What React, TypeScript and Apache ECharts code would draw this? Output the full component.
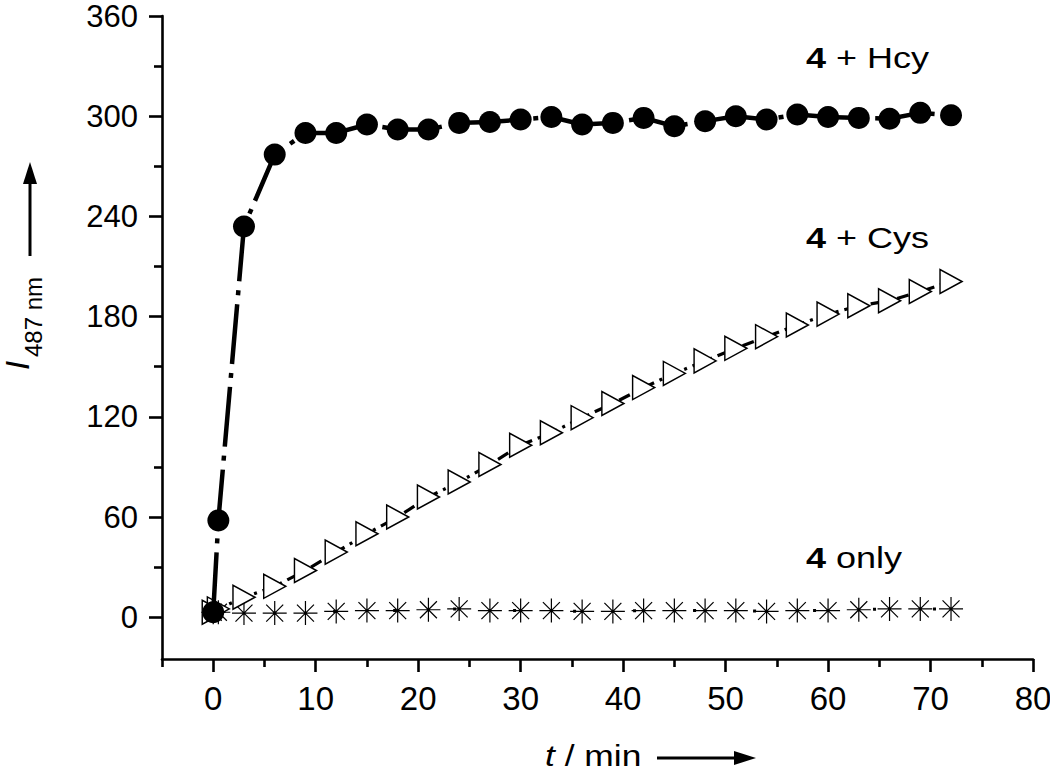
import React, { useEffect, useRef } from "react";
import * as echarts from "echarts";

const times = [0, 0.5, 3, 6, 9, 12, 15, 18, 21, 24, 27, 30, 33, 36, 39, 42, 45, 48, 51, 54, 57, 60, 63, 66, 69, 72];
const hcyValues = [3, 58, 234, 277, 290, 290, 295, 292, 292, 296, 296.5, 298, 299.5, 295, 296, 299, 294, 297, 300, 298, 301, 299.5, 299, 298.5, 302, 300.5];
const cysValues = [3, 5, 12, 18.5, 28, 39, 50, 60, 72, 81, 91.5, 103, 110.5, 119.5, 128, 137.5, 146, 153.5, 161, 168, 175, 181.5, 186.5, 189.5, 195, 201];
const onlyValues = [3, 3, 2.5, 2.5, 2.5, 3.5, 4, 4, 4.5, 5, 4, 4, 4, 3.5, 3.5, 4, 4, 4, 4, 3.5, 4, 4, 4.5, 5, 5, 5];

const xMajorTicks = [0, 10, 20, 30, 40, 50, 60, 70, 80];
const xMinorTicks = [-5, 5, 15, 25, 35, 45, 55, 65, 75];
const yMajorTicks = [0, 60, 120, 180, 240, 300, 360];
const yMinorTicks = [30, 90, 150, 210, 270, 330];

const FONT = '"Liberation Sans", Arial, Helvetica, sans-serif';
const STAR =
  "path://M0,10.45L22,10.45L22,11.55L0,11.55Z" +
  "M10.45,0L11.55,0L11.55,22L10.45,22Z" +
  "M3.61,2.83L19.17,18.39L18.39,19.17L2.83,3.61Z" +
  "M18.39,2.83L19.17,3.61L3.61,19.17L2.83,18.39Z";

function pairs(xs: number[], ys: number[]) {
  return xs.map((x, i) => [x, ys[i]]);
}

export default function App() {
  const ref = useRef<HTMLDivElement>(null);
  useEffect(() => {
    if (!ref.current) return;
    const chart = echarts.init(ref.current, null, { renderer: "svg" });
    const axisLineStyle = { color: "#000", width: 2.6 };
    const xLabelStyle = { color: "#000", fontSize: 33, lineHeight: 26, fontFamily: FONT };
    const yLabelStyle = { color: "#000", fontSize: 31, lineHeight: 26, fontFamily: FONT };
    chart.setOption({
      animation: false,
      backgroundColor: "#fff",
      grid: { left: 162, right: 17, top: 16, bottom: 112, containLabel: false, outerBoundsMode: "none" },
      xAxis: [
        {
          type: "value",
          min: -5,
          max: 80,
          position: "bottom",
          axisLine: { show: true, onZero: false, lineStyle: axisLineStyle },
          axisTick: { show: true, customValues: xMajorTicks, length: 13, lineStyle: axisLineStyle },
          axisLabel: { show: true, customValues: xMajorTicks, margin: 26, ...xLabelStyle },
          splitLine: { show: false },
        },
        {
          type: "value",
          min: -5,
          max: 80,
          position: "bottom",
          axisLine: { show: false, onZero: false },
          axisTick: { show: true, customValues: xMinorTicks, length: 8, lineStyle: axisLineStyle },
          axisLabel: { show: false },
          splitLine: { show: false },
        },
      ],
      yAxis: [
        {
          type: "value",
          min: -25,
          max: 360,
          position: "left",
          axisLine: { show: true, onZero: false, lineStyle: axisLineStyle },
          axisTick: { show: true, customValues: yMajorTicks, length: 13, lineStyle: axisLineStyle },
          axisLabel: { show: true, customValues: yMajorTicks, margin: 24, ...yLabelStyle },
          splitLine: { show: false },
        },
        {
          type: "value",
          min: -25,
          max: 360,
          position: "left",
          axisLine: { show: false, onZero: false },
          axisTick: { show: true, customValues: yMinorTicks, length: 8, lineStyle: axisLineStyle },
          axisLabel: { show: false },
          splitLine: { show: false },
        },
      ],
      series: [
        {
          name: "4 only",
          type: "line",
          data: pairs(times, onlyValues),
          symbol: STAR,
          symbolSize: 24,
          showAllSymbol: true,
          itemStyle: { color: "#000", borderWidth: 0 },
          lineStyle: { color: "#000", width: 3, type: [3, 57] },
          z: 2,
        },
        {
          name: "4 + Cys",
          type: "line",
          data: pairs(times, cysValues),
          symbol: "triangle",
          symbolRotate: -90,
          symbolSize: [24, 22],
          showAllSymbol: true,
          itemStyle: { color: "#fff", borderColor: "#000", borderWidth: 1.5 },
          lineStyle: { color: "#000", width: 3.2, type: [12, 6, 3, 6] },
          z: 3,
        },
        {
          name: "4 + Hcy",
          type: "line",
          data: pairs(times, hcyValues),
          symbol: "circle",
          symbolSize: 22,
          showAllSymbol: true,
          itemStyle: { color: "#000", borderColor: "#000", borderWidth: 0 },
          lineStyle: { color: "#000", width: 4.5, type: [60, 9, 5, 9] },
          z: 4,
        },
      ],
      graphic: [
        {
          type: "text",
          x: 806,
          y: 58,
          scaleX: 1.2,
          style: {
            text: "{b|4} + Hcy",
            fontSize: 30,
            fontFamily: FONT,
            fill: "#000",
            align: "left",
            verticalAlign: "middle",
            rich: { b: { fontSize: 30, fontFamily: FONT, fontWeight: "bold", fill: "#000" } },
          },
        },
        {
          type: "text",
          x: 806,
          y: 238,
          scaleX: 1.2,
          style: {
            text: "{b|4} + Cys",
            fontSize: 30,
            fontFamily: FONT,
            fill: "#000",
            align: "left",
            verticalAlign: "middle",
            rich: { b: { fontSize: 30, fontFamily: FONT, fontWeight: "bold", fill: "#000" } },
          },
        },
        {
          type: "text",
          x: 806,
          y: 558,
          scaleX: 1.2,
          style: {
            text: "{b|4} only",
            fontSize: 30,
            fontFamily: FONT,
            fill: "#000",
            align: "left",
            verticalAlign: "middle",
            rich: { b: { fontSize: 30, fontFamily: FONT, fontWeight: "bold", fill: "#000" } },
          },
        },
        {
          type: "text",
          x: 545,
          y: 755,
          scaleX: 1.18,
          style: {
            text: "{i|t} / min",
            fontSize: 30,
            lineHeight: 22,
            fontFamily: FONT,
            fill: "#000",
            align: "left",
            verticalAlign: "middle",
            rich: { i: { fontSize: 30, lineHeight: 22, fontFamily: FONT, fontStyle: "italic", fill: "#000" } },
          },
        },
        {
          type: "line",
          shape: { x1: 657, y1: 758, x2: 740, y2: 758 },
          style: { stroke: "#000", lineWidth: 3 },
        },
        {
          type: "polygon",
          shape: { points: [[756, 758], [734, 751], [734, 765]] },
          style: { fill: "#000" },
        },
        {
          type: "text",
          x: 17,
          y: 370,
          rotation: Math.PI / 2,
          style: {
            text: "I",
            fontSize: 33,
            lineHeight: 28,
            fontFamily: FONT,
            fontStyle: "italic",
            fill: "#000",
            align: "left",
            verticalAlign: "middle",
          },
        },
        {
          type: "text",
          x: 33,
          y: 357,
          rotation: Math.PI / 2,
          style: {
            text: "487 nm",
            fontSize: 24,
            fontFamily: FONT,
            fill: "#000",
            align: "left",
            verticalAlign: "middle",
          },
        },
        {
          type: "line",
          shape: { x1: 30, y1: 256, x2: 30, y2: 178 },
          style: { stroke: "#000", lineWidth: 3 },
        },
        {
          type: "polygon",
          shape: { points: [[30, 162], [23, 184], [37, 184]] },
          style: { fill: "#000" },
        },
      ],
    });
    return () => chart.dispose();
  }, []);
  return (
    <div
      ref={ref}
      style={{ position: "fixed", left: 0, top: 0, width: 1050, height: 771, background: "#fff" }}
    />
  );
}
